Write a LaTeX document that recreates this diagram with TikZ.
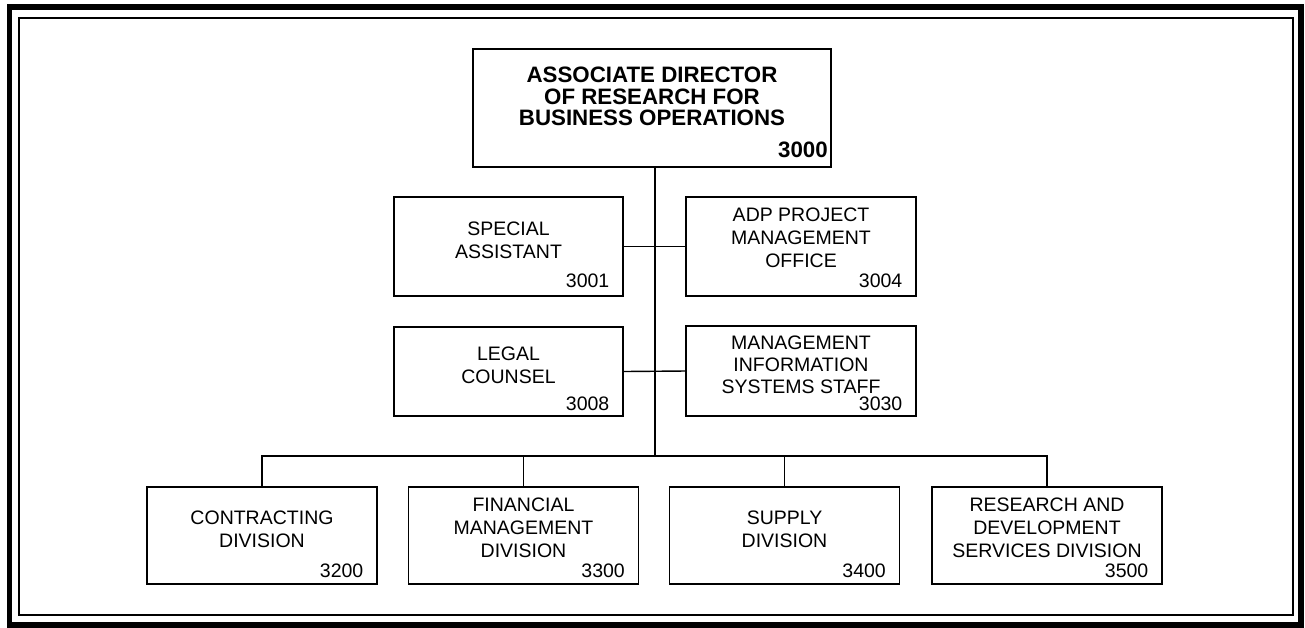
\documentclass[tikz,border=0pt]{standalone}
\usepackage{fontspec}
\setmainfont{Liberation Sans}

\tikzset{
  unit/.style={draw, line width=0.8pt, minimum width=4.6cm, minimum height=1.94cm, inner sep=0pt},
  unittext/.style={align=center, inner sep=0pt, font=\fontsize{11.1}{13}\selectfont},
  code/.style={anchor=base east, inner sep=0pt, font=\fontsize{11.1}{13}\selectfont, xshift=-0.28cm, yshift=0.14cm},
  headcode/.style={anchor=base east, inner sep=0pt, font=\fontsize{12.7}{12}\selectfont\bfseries, xshift=-0.07cm, yshift=0.2cm},
  link/.style={line width=0.8pt},
}

\begin{document}
\begin{tikzpicture}[x=0.02cm, y=-0.02cm]
  \useasboundingbox (0,0) rectangle (1305,627);

  % frame
  \draw[line width=0.12cm] (9.5,7) rectangle (1301,624.5);
  \draw[line width=0.8pt] (19,18) rectangle (1293,615);

  % director
  \node[unit, minimum width=7.16cm, minimum height=2.36cm] (dir) at (652,108) {};
  \node[unittext, font=\fontsize{12.7}{12.2}\selectfont\bfseries, yshift=0.23cm] (dir-t) at (dir)
    {ASSOCIATE DIRECTOR\\OF RESEARCH FOR\\BUSINESS OPERATIONS};
  \node[headcode] (dir-n) at (dir.south east) {3000};

  % staff offices
  \node[unit, minimum width=4.58cm, minimum height=1.98cm] (spa) at (508.5,246.5) {};
  \node[unittext, yshift=0.12cm] (spa-t) at (spa) {SPECIAL\\ASSISTANT};
  \node[code, yshift=0.04cm] (spa-n) at (spa.south east) {3001};

  \node[unit, minimum width=4.6cm, minimum height=1.98cm] (adp) at (801,246.5) {};
  \node[unittext, yshift=0.17cm] (adp-t) at (adp) {ADP PROJECT\\MANAGEMENT\\OFFICE};
  \node[code, yshift=0.04cm] (adp-n) at (adp.south east) {3004};

  \node[unit, minimum width=4.58cm, minimum height=1.78cm] (leg) at (508.5,371.5) {};
  \node[unittext, yshift=0.12cm] (leg-t) at (leg) {LEGAL\\COUNSEL};
  \node[code, yshift=-0.02cm] (leg-n) at (leg.south east) {3008};

  \node[unit, minimum width=4.6cm, minimum height=1.8cm] (mis) at (801,371) {};
  \node[unittext, font=\fontsize{11.1}{12.6}\selectfont, yshift=0.13cm] (mis-t) at (mis) {MANAGEMENT\\INFORMATION\\SYSTEMS STAFF};
  \node[code, yshift=-0.02cm] (mis-n) at (mis.south east) {3030};

  % divisions
  \node[unit] (con) at (262,535.5) {};
  \node[unittext, yshift=0.12cm] (con-t) at (con) {CONTRACTING\\DIVISION};
  \node[code] (con-n) at (con.south east) {3200};

  \node[unit] (fin) at (523.5,535.5) {};
  \node[unittext, yshift=0.16cm] (fin-t) at (fin) {FINANCIAL\\MANAGEMENT\\DIVISION};
  \node[code] (fin-n) at (fin.south east) {3300};

  \node[unit] (sup) at (784.5,535.5) {};
  \node[unittext, yshift=0.12cm] (sup-t) at (sup) {SUPPLY\\DIVISION};
  \node[code] (sup-n) at (sup.south east) {3400};

  \node[unit] (rnd) at (1047,535.5) {};
  \node[unittext, yshift=0.15cm] (rnd-t) at (rnd) {RESEARCH AND\\DEVELOPMENT\\SERVICES DIVISION};
  \node[code] (rnd-n) at (rnd.south east) {3500};

  % connectors
  \coordinate (trunk) at (655,456);
  \draw[link] (dir.south -| trunk) -- (trunk);
  \draw[link] (spa.east) -- (adp.west);
  \draw[link] (leg.east) -- (mis.west);
  \draw[link] (con.north) |- (trunk) -| (rnd.north);
  \draw[link] (fin.north) -- (fin.north |- trunk);
  \draw[link] (sup.north) -- (sup.north |- trunk);
\end{tikzpicture}
\end{document}
